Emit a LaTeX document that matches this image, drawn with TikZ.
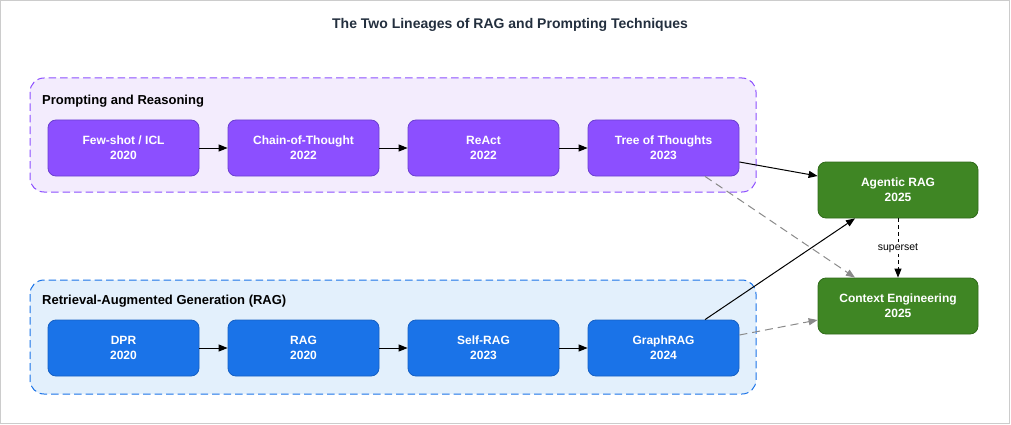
\documentclass[tikz,border=0pt]{standalone}
\usepackage{fontspec}
\setmainfont{Liberation Sans}
\usetikzlibrary{arrows.meta}
\definecolor{titlec}{HTML}{232F3E}
\definecolor{purfill}{HTML}{8C4FFF}
\definecolor{purdraw}{HTML}{6B3FD0}
\definecolor{purgrp}{HTML}{F3ECFD}
\definecolor{purgrpd}{HTML}{8C4FFF}
\definecolor{blufill}{HTML}{1A73E8}
\definecolor{bludraw}{HTML}{1560C4}
\definecolor{blugrp}{HTML}{E3F0FC}
\definecolor{blugrpd}{HTML}{1A73E8}
\definecolor{grnfill}{HTML}{3F8624}
\definecolor{grndraw}{HTML}{2F6A1A}
\definecolor{dgray}{HTML}{8A8A8A}
\tikzset{
  x=1pt,y=-1pt,
  box/.style={rounded corners=8pt, minimum width=151pt, minimum height=56pt, inner sep=0pt,
    text=white, font=\fontsize{12}{15}\selectfont\bfseries, align=center, line width=0.8pt},
  pbox/.style={box, fill=purfill, draw=purdraw},
  bbox/.style={box, fill=blufill, draw=bludraw},
  gbox/.style={box, fill=grnfill, draw=grndraw, minimum width=160pt},
  grp/.style={rounded corners=14pt, dash pattern=on 7.5pt off 4pt, line width=1pt},
  grplabel/.style={anchor=west, font=\fontsize{13}{15}\selectfont\bfseries, text=black, inner sep=0pt},
  arr/.style={-{Triangle[length=9pt,width=7pt]}, line width=1pt, black},
  darr/.style={-{Triangle[length=9pt,width=7pt]}, line width=1pt, dgray, dash pattern=on 8pt off 5pt},
}
\begin{document}
\begin{tikzpicture}
\useasboundingbox (0,0) rectangle (1011,425);
\draw[draw=black!20, line width=1pt] (0.5,0.5) rectangle (1009.5,423.5);
\node[font=\fontsize{14}{16}\selectfont\bfseries, text=titlec] (title) at (510,25) {The Two Lineages of RAG and Prompting Techniques};
% groups
\draw[grp, fill=purgrp, draw=purgrpd] (30,78) rectangle (756,192);
\node[grplabel] (plab) at (42,101) {Prompting and Reasoning};
\draw[grp, fill=blugrp, draw=blugrpd] (30,280) rectangle (756,394);
\node[grplabel] (rlab) at (42,301) {Retrieval-Augmented Generation (RAG)};
% purple boxes
\node[pbox] (fs) at (123.5,148) {Few-shot / ICL\\2020};
\node[pbox] (cot) at (303.5,148) {Chain-of-Thought\\2022};
\node[pbox] (react) at (483.5,148) {ReAct\\2022};
\node[pbox] (tot) at (663.5,148) {Tree of Thoughts\\2023};
% blue boxes
\node[bbox] (dpr) at (123.5,348) {DPR\\2020};
\node[bbox] (rag) at (303.5,348) {RAG\\2020};
\node[bbox] (self) at (483.5,348) {Self-RAG\\2023};
\node[bbox] (graph) at (663.5,348) {GraphRAG\\2024};
% green
\node[gbox] (agent) at (898,190) {Agentic RAG\\2025};
\node[gbox] (ce) at (898,306) {Context Engineering\\2025};
% arrows
\draw[arr] (fs) -- (cot);
\draw[arr] (cot) -- (react);
\draw[arr] (react) -- (tot);
\draw[arr] (dpr) -- (rag);
\draw[arr] (rag) -- (self);
\draw[arr] (self) -- (graph);
\draw[arr] (tot.east |- 0,162) -- (agent.west |- 0,176);
\draw[darr] (tot.south -| 705,0) -- (ce.north -| 855,0);
\draw[arr] (graph.north -| 705,0) -- (agent.south -| 855,0);
\draw[darr] (graph.east |- 0,335) -- (ce.west |- 0,320);
\draw[arr, dash pattern=on 4pt off 3pt] (agent) -- node[fill=white, inner sep=1.5pt, font=\fontsize{10.5}{12}\selectfont, text=black] (sup) {superset} (ce);
\end{tikzpicture}
\end{document}
